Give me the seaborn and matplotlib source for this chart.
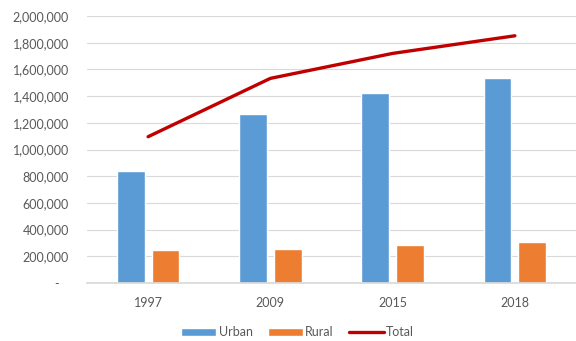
import matplotlib
matplotlib.use("Agg")
import matplotlib.pyplot as plt
import matplotlib.ticker as mticker
from matplotlib.patches import Patch
from matplotlib.lines import Line2D
import numpy as np
import pandas as pd
import seaborn as sns

years = ["1997", "2009", "2015", "2018"]
urban = [840000, 1268000, 1421000, 1538000]
rural = [247000, 255000, 285000, 305000]
total = [1096000, 1533000, 1720000, 1852000]

colors = {"Urban": "#5B9BD5", "Rural": "#ED7D31", "Total": "#C00000"}

sns.set_theme(style="white")
plt.rcParams["font.family"] = ["Lato", "DejaVu Sans"]

df = pd.DataFrame({
    "Year": years * 2,
    "Population": urban + rural,
    "Area": ["Urban"] * len(years) + ["Rural"] * len(years),
})

fig = plt.figure(figsize=(5.76, 3.41), dpi=100)
ax = fig.add_axes([0.151, 0.170, 0.849, 0.783])

sns.barplot(data=df, x="Year", y="Population", hue="Area",
            palette=[colors["Urban"], colors["Rural"]],
            width=0.57, gap=0.2, ax=ax, legend=False, saturation=1)
sns.lineplot(x=np.arange(len(years)), y=total, ax=ax,
             color=colors["Total"], linewidth=2.4)

ax.set_xlim(-0.5, len(years) - 0.5)
ax.set_ylim(0, 2000000)
ax.yaxis.set_major_locator(mticker.MultipleLocator(200000))
ax.yaxis.set_major_formatter(
    mticker.FuncFormatter(lambda v, p: "-   " if v == 0 else f"{int(v):,}"))
ax.grid(axis="y", color="#D9D9D9", linewidth=0.8)
ax.set_axisbelow(True)
for s in ["top", "right", "left"]:
    ax.spines[s].set_visible(False)
ax.spines["bottom"].set_color("#D9D9D9")
ax.tick_params(axis="both", length=0, colors="#595959", labelsize=9)
ax.tick_params(axis="x", pad=10)
ax.tick_params(axis="y", pad=13)
ax.set_xlabel("")
ax.set_ylabel("")

handles = [
    Patch(facecolor=colors["Urban"], label="Urban"),
    Patch(facecolor=colors["Rural"], label="Rural"),
    Line2D([0], [0], color=colors["Total"], linewidth=2.4, label="Total"),
]
leg = fig.legend(handles=handles, loc="center", bbox_to_anchor=(0.517, 0.025),
                 ncol=3, frameon=False, fontsize=9, handlelength=2.8,
                 handleheight=0.7, columnspacing=1.2, handletextpad=0.2)
for t in leg.get_texts():
    t.set_color("#595959")

fig.savefig("out.png", dpi=100)
